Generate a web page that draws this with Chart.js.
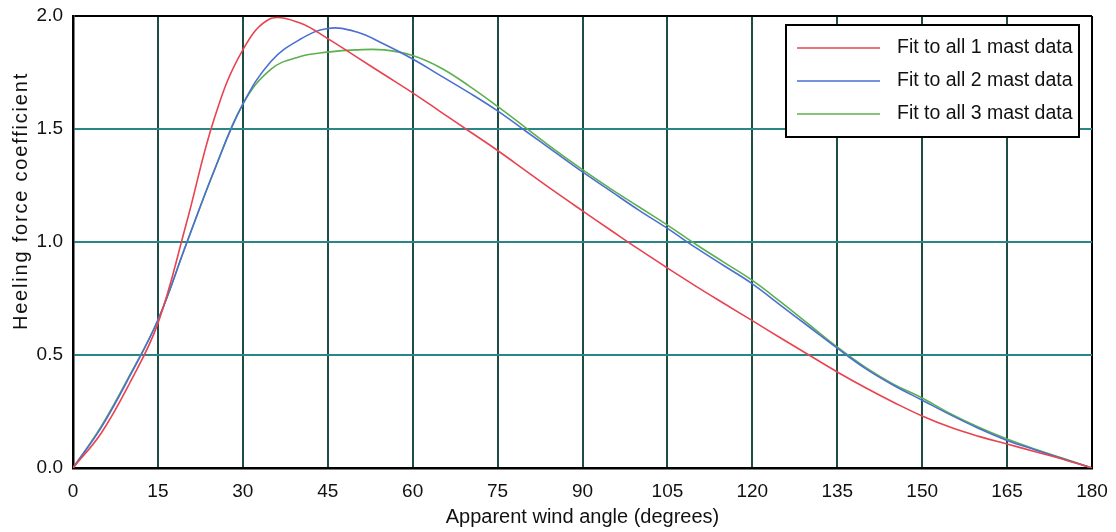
<!DOCTYPE html>
<html>
<head>
<meta charset="utf-8">
<title>Heeling force coefficient</title>
<script src="https://cdn.jsdelivr.net/npm/chart.js@4/dist/chart.umd.min.js"></script>
<style>
  html, body { margin: 0; padding: 0; background: #fff; }
  #wrap { width: 1116px; height: 532px; }
</style>
</head>
<body>
<div id="wrap"><canvas id="heelChart" width="1116" height="532"></canvas></div>
<script>
// apparent wind angle, degrees
const angles = [0, 5, 10, 15, 20, 25, 30, 35, 40, 45, 50, 55, 60, 65, 70, 75, 80, 85, 90,
                95, 100, 105, 110, 115, 120, 125, 130, 135, 140, 145, 150, 155, 160, 165, 170, 175, 180];

// fitted heeling force coefficient for each rig
const oneMast = [0, 0.155, 0.375, 0.64, 1.08, 1.55, 1.85, 1.99, 1.97, 1.90, 1.82, 1.74, 1.66,
                 1.575, 1.49, 1.405, 1.315, 1.225, 1.138, 1.052, 0.967, 0.885, 0.805, 0.728, 0.652,
                 0.575, 0.50, 0.425, 0.355, 0.29, 0.23, 0.18, 0.14, 0.106, 0.072, 0.038, 0];
const twoMast = [0, 0.18, 0.405, 0.655, 0.99, 1.32, 1.61, 1.80, 1.895, 1.945, 1.93, 1.875, 1.81,
                 1.735, 1.66, 1.58, 1.49, 1.40, 1.31, 1.225, 1.14, 1.06, 0.975, 0.895, 0.815,
                 0.72, 0.625, 0.53, 0.44, 0.365, 0.30, 0.235, 0.175, 0.122, 0.08, 0.04, 0];
const threeMast = [0, 0.185, 0.41, 0.655, 0.99, 1.32, 1.61, 1.765, 1.82, 1.84, 1.85, 1.85, 1.825,
                   1.77, 1.69, 1.60, 1.505, 1.41, 1.32, 1.235, 1.155, 1.075, 0.99, 0.91, 0.83,
                   0.735, 0.635, 0.535, 0.445, 0.37, 0.31, 0.24, 0.18, 0.128, 0.083, 0.042, 0];

const xTicks = [0, 15, 30, 45, 60, 75, 90, 105, 120, 135, 150, 165, 180];
const yTicks = [0, 0.5, 1.0, 1.5, 2.0];

const seriesNames = ['Fit to all 1 mast data', 'Fit to all 2 mast data', 'Fit to all 3 mast data'];
const seriesColors = ['#e8434f', '#4b6fd2', '#5cb04e'];
const yTitle = 'Heeling force coefficient';

const FONT = '"Liberation Sans", Arial, sans-serif';

function toPoints(values) {
    return angles.map((a, i) => ({ x: a, y: values[i] }));
}

// boxed legend inside the plot (top right) and the widely spaced y title
const boxLegend = {
    id: 'boxLegend',
    afterDatasetsDraw(chart) {
        const ctx = chart.ctx;
        const left = 786, top = 25, w = 293, h = 112;
        ctx.save();
        ctx.fillStyle = '#fff';
        ctx.fillRect(left, top, w, h);
        ctx.strokeStyle = '#000';
        ctx.lineWidth = 2;
        ctx.strokeRect(left, top, w, h);
        ctx.font = '19.5px ' + FONT;
        ctx.textBaseline = 'middle';
        chart.data.datasets.forEach((ds, i) => {
            const y = top + 23 + i * 33;
            ctx.strokeStyle = ds.borderColor;
            ctx.lineWidth = 1.5;
            ctx.beginPath();
            ctx.moveTo(left + 11, y);
            ctx.lineTo(left + 94, y);
            ctx.stroke();
            ctx.fillStyle = '#111';
            ctx.fillText(ds.label, left + 111, y);
        });
        ctx.restore();
    },
    afterDraw(chart) {
        const ctx = chart.ctx;
        ctx.save();
        ctx.translate(21, 201);
        ctx.rotate(-Math.PI / 2);
        ctx.font = '20px ' + FONT;
        if ('letterSpacing' in ctx) ctx.letterSpacing = '1.8px';
        ctx.fillStyle = '#111';
        ctx.textAlign = 'center';
        ctx.textBaseline = 'middle';
        ctx.fillText(yTitle, 0, 0);
        ctx.restore();
    }
};

const datasets = [oneMast, twoMast, threeMast].map((vals, i) => ({
    label: seriesNames[i],
    data: toPoints(vals),
    borderColor: seriesColors[i],
    borderWidth: 1.6,
    pointRadius: 0,
    fill: false,
    tension: 0.4
}));

new Chart(document.getElementById('heelChart'), {
    type: 'line',
    data: { datasets: datasets },
    options: {
        responsive: false,
        animation: false,
        layout: { padding: { top: 16, right: 24, left: 0, bottom: 0 } },
        plugins: {
            legend: { display: false },
            tooltip: { enabled: false }
        },
        scales: {
            x: {
                type: 'linear',
                min: 0,
                max: 180,
                afterBuildTicks: scale => { scale.ticks = xTicks.map(v => ({ value: v })); },
                afterFit: scale => {
                    scale.height = 64;
                    scale.paddingLeft = 0;
                    scale.paddingRight = 0;
                },
                grid: {
                    drawTicks: false,
                    lineWidth: 2,
                    color: c => c.tick && c.tick.value === 180 ? '#000' : '#1d4d44'
                },
                border: { color: '#000', width: 2.5 },
                ticks: {
                    padding: 12,
                    color: '#111',
                    font: { family: FONT, size: 19 }
                },
                title: {
                    display: true,
                    text: 'Apparent wind angle (degrees)',
                    color: '#111',
                    font: { family: FONT, size: 20 },
                    padding: { top: 4, bottom: 3 }
                }
            },
            y: {
                min: 0,
                max: 2,
                afterBuildTicks: scale => { scale.ticks = yTicks.map(v => ({ value: v })); },
                afterFit: scale => {
                    scale.width = 73;
                    scale.paddingTop = 0;
                    scale.paddingBottom = 0;
                },
                grid: {
                    drawTicks: false,
                    lineWidth: 2,
                    color: c => c.tick && c.tick.value === 2 ? '#000' : '#2a8686'
                },
                border: { color: '#000', width: 2.5 },
                ticks: {
                    padding: 10,
                    color: '#111',
                    font: { family: FONT, size: 19 },
                    callback: v => v.toFixed(1)
                }
            }
        }
    },
    plugins: [boxLegend]
});
</script>
</body>
</html>
